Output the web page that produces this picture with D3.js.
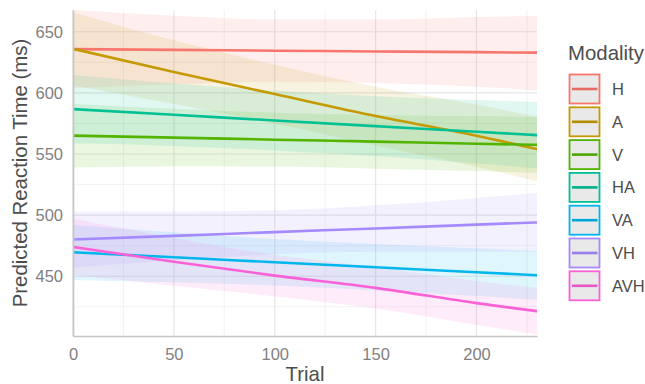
<!DOCTYPE html>
<html>
<head>
<meta charset="utf-8">
<script src="https://cdn.jsdelivr.net/npm/d3@7"></script>
<style>
  body { margin: 0; background: #fff; }
  text { font-family: "Liberation Sans", Arial, sans-serif; }
</style>
</head>
<body>
<svg id="chart" width="645" height="384"></svg>
<script>
// values, at these trial numbers
const trials = [0, 50, 100, 150, 200, 230];

const modalities = ["H", "A", "V", "HA", "VA", "VH", "AVH"];
const colours = ["#F8766D", "#C49A00", "#53B400", "#00C094", "#00B6EB", "#A58AFF", "#FB61D7"];

const fitH  = [635.8, 635.2, 634.5, 633.9, 633.3, 632.9];
const loH   = [604, 607, 609, 608, 605, 602];
const hiH   = [668, 663, 660, 660, 662, 663];

const fitA  = [636, 617, 599, 581, 565, 554];
const loA   = [606, 591, 575, 557, 539.5, 527.5];
const hiA   = [666, 643, 623, 605, 590.5, 580.5];

const fitV  = [565, 563.4, 561.7, 560.1, 558.4, 557.5];
const loV   = [539, 540, 539.7, 538, 536, 534.5];
const hiV   = [591, 587, 583.7, 582, 581, 580.5];

const fitHA = [586.7, 582.1, 577.4, 572.8, 568.2, 565.4];
const loHA  = [558.7, 556.6, 552.9, 548.3, 542.2, 538.2];
const hiHA  = [614.7, 607.6, 601.9, 597.3, 594.2, 592.6];

const fitVA = [469.6, 465.5, 461.4, 457.3, 453.3, 450.8];
const loVA  = [447, 445, 442.4, 438.3, 433.8, 430.8];
const hiVA  = [492, 486, 480.4, 476.3, 472.8, 470.8];

const fitVH = [480, 483, 486.1, 489.1, 492.2, 494];
const loVH  = [457, 463, 468, 470, 470, 470];
const hiVH  = [503, 503, 504, 508, 514, 518];

const fitAVH = [474, 461.8, 450.5, 440.5, 428, 421.4];
const loAVH  = [451, 442.3, 433.5, 423.5, 410, 402.4];
const hiAVH  = [497, 481.3, 467.5, 457.5, 446, 440.4];

const xTicks = [0, 50, 100, 150, 200];
const yTicks = [450, 500, 550, 600, 650];
const xMinor = [25, 75, 125, 175, 225];
const yMinor = [425, 475, 525, 575, 625];

let fits = [fitH, fitA, fitV, fitHA, fitVA, fitVH, fitAVH],
    lows = [loH, loA, loV, loHA, loVA, loVH, loAVH],
    highs = [hiH, hiA, hiV, hiHA, hiVA, hiVH, hiAVH];

let series = modalities.map(function(name, k) {
    return {
        name: name,
        colour: colours[k],
        points: trials.map(function(t, i) {
            return {t: t, fit: fits[k][i], lo: lows[k][i], hi: highs[k][i]};
        })
    };
});

let svg = d3.select("svg#chart"),
    panel = {left: 73, right: 537, top: 10, bottom: 336};

let x = d3.scaleLinear().domain([0, 230]).range([panel.left, panel.right]);
let y = d3.scaleLinear().domain([401.1, 667.8]).range([panel.bottom, panel.top]);

let defs = svg.append("defs");
defs.append("clipPath").attr("id", "clip")
    .append("rect")
    .attr("x", panel.left).attr("y", panel.top)
    .attr("width", panel.right - panel.left)
    .attr("height", panel.bottom - panel.top);

// grid
let grid = svg.append("g");
grid.selectAll("line.ym").data(yMinor).enter().append("line")
    .attr("x1", panel.left).attr("x2", panel.right)
    .attr("y1", d => y(d)).attr("y2", d => y(d))
    .attr("stroke", "#efefef").attr("stroke-width", 0.8);
grid.selectAll("line.xm").data(xMinor).enter().append("line")
    .attr("y1", panel.top).attr("y2", panel.bottom)
    .attr("x1", d => x(d)).attr("x2", d => x(d))
    .attr("stroke", "#efefef").attr("stroke-width", 0.8);
grid.selectAll("line.yM").data(yTicks).enter().append("line")
    .attr("x1", panel.left).attr("x2", panel.right)
    .attr("y1", d => y(d)).attr("y2", d => y(d))
    .attr("stroke", "#e6e6e6").attr("stroke-width", 1.2);
grid.selectAll("line.xM").data(xTicks).enter().append("line")
    .attr("y1", panel.top).attr("y2", panel.bottom)
    .attr("x1", d => x(d)).attr("x2", d => x(d))
    .attr("stroke", "#e6e6e6").attr("stroke-width", 1.2);

let area = d3.area()
    .x(d => x(d.t))
    .y0(d => y(d.lo))
    .y1(d => y(d.hi))
    .curve(d3.curveMonotoneX);

let line = d3.line()
    .x(d => x(d.t))
    .y(d => y(d.fit))
    .curve(d3.curveMonotoneX);

let plot = svg.append("g").attr("clip-path", "url(#clip)");

plot.selectAll("path.ribbon").data(series).enter().append("path")
    .attr("class", "ribbon")
    .attr("d", d => area(d.points))
    .attr("fill", d => d.colour)
    .attr("fill-opacity", 0.12);

plot.selectAll("path.fit").data(series).enter().append("path")
    .attr("class", "fit")
    .attr("d", d => line(d.points))
    .attr("fill", "none")
    .attr("stroke", d => d.colour)
    .attr("stroke-width", 2.6);

// axes
let xAxis = svg.append("g")
    .attr("transform", "translate(0," + panel.bottom + ")")
    .call(d3.axisBottom(x).tickValues(xTicks).tickSize(0).tickPadding(12));
let yAxis = svg.append("g")
    .attr("transform", "translate(" + panel.left + ",0)")
    .call(d3.axisLeft(y).tickValues(yTicks).tickSize(0).tickPadding(10));

[xAxis, yAxis].forEach(function(a) {
    a.select(".domain").attr("stroke", "#c4c4c4").attr("stroke-width", 1.6);
    a.selectAll("text")
        .attr("font-size", 16.5)
        .attr("fill", "#7f7f7f")
        .style("font-family", "'Liberation Sans', Arial, sans-serif");
});

svg.append("text")
    .attr("x", (panel.left + panel.right) / 2)
    .attr("y", 381)
    .attr("text-anchor", "middle")
    .attr("font-size", 20.4)
    .attr("fill", "#4d4d4d")
    .text("Trial");

svg.append("text")
    .attr("transform", "translate(27," + (panel.top + panel.bottom) / 2 + ") rotate(-90)")
    .attr("text-anchor", "middle")
    .attr("font-size", 20.4)
    .attr("fill", "#4d4d4d")
    .text("Predicted Reaction Time (ms)");

// legend
let legend = svg.append("g");
legend.append("text")
    .attr("x", 568)
    .attr("y", 60)
    .attr("font-size", 20.4)
    .attr("fill", "#4d4d4d")
    .text("Modality");

let keys = legend.selectAll("g.key").data(series).enter().append("g")
    .attr("class", "key")
    .attr("transform", (d, i) => "translate(569," + (89 + i * 32.8) + ")");

keys.append("rect")
    .attr("x", 0.5).attr("y", -14.5)
    .attr("width", 30).attr("height", 29)
    .attr("fill", "#e9e9e9")
    .attr("stroke", d => d.colour)
    .attr("stroke-width", 1.8);

keys.append("line")
    .attr("x1", 3).attr("x2", 28.5)
    .attr("y1", 0).attr("y2", 0)
    .attr("stroke", d => d3.color(d.colour).darker(0.25))
    .attr("stroke-width", 2.6);

keys.append("text")
    .attr("x", 43)
    .attr("y", 0)
    .attr("dy", "0.36em")
    .attr("font-size", 16.5)
    .attr("fill", "#4d4d4d")
    .text(d => d.name);
</script>
</body>
</html>
